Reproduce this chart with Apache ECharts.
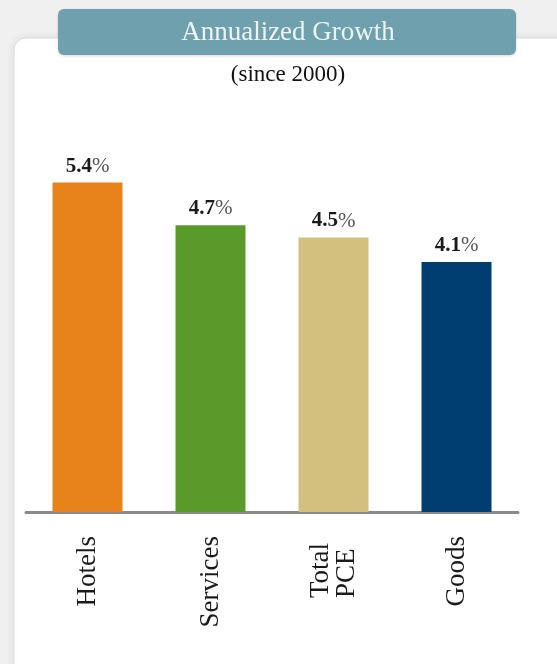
<!DOCTYPE html>
<html>
<head>
<meta charset="utf-8">
<script src="https://cdn.jsdelivr.net/npm/echarts@6/dist/echarts.min.js"></script>
<style>
html,body{margin:0;padding:0;background:#f0f0f0;}
#c{width:557px;height:664px;}
</style>
</head>
<body>
<div id="c"></div>
<script>
const categories = ['Hotels', 'Services', 'Total\nPCE', 'Goods'];
const values = [5.4, 4.7, 4.5, 4.1];
const colors = ['#e8821a', '#5a9a2a', '#d4c07e', '#003d70'];
const titleText = 'Annualized Growth';
const subtitleText = '(since 2000)';

const chart = echarts.init(document.getElementById('c'));
const serif = '"Liberation Serif", "Times New Roman", serif';

chart.setOption({
  backgroundColor: '#f0f0f0',
  animation: false,
  graphic: [
    {
      type: 'rect', z: 0, silent: true,
      shape: { x: 14, y: 38, width: 570, height: 660, r: 12 },
      style: { fill: '#ffffff', stroke: '#dcdcdc', lineWidth: 1, shadowBlur: 10, shadowColor: 'rgba(0,0,0,0.08)' }
    },
    {
      type: 'rect', z: 1, silent: true,
      shape: { x: 58, y: 9, width: 458, height: 46, r: 6 },
      style: { fill: '#6fa0ad', shadowBlur: 3, shadowColor: 'rgba(0,0,0,0.15)', shadowOffsetY: 1 }
    },
    {
      type: 'text', z: 2, silent: true,
      x: 288, y: 33,
      style: { text: titleText, fill: '#eef4f5', font: '27px ' + serif, align: 'center', verticalAlign: 'middle' }
    },
    {
      type: 'text', z: 2, silent: true,
      x: 288, y: 75,
      style: { text: subtitleText, fill: '#111111', font: '23px ' + serif, align: 'center', verticalAlign: 'middle' }
    }
  ],
  grid: { left: 26, width: 492, top: 146, height: 366 },
  xAxis: {
    type: 'category',
    data: categories,
    axisLine: { lineStyle: { color: '#8a8a8a', width: 3 } },
    axisTick: { show: false },
    axisLabel: {
      rotate: 90,
      margin: 24,
      color: '#1a1a1a',
      fontFamily: serif,
      fontSize: 27,
      lineHeight: 27,
      formatter: function (v) {
        if (v.indexOf('\n') >= 0) {
          return v.split('\n').map(s => '{l|' + s + '}').join('\n');
        }
        return v;
      },
      rich: {
        l: { width: 62, align: 'left', fontFamily: serif, fontSize: 27, color: '#1a1a1a', lineHeight: 26 }
      }
    }
  },
  yAxis: {
    type: 'value', min: 0, max: 6, show: false,
    splitLine: { show: false }
  },
  series: [{
    type: 'bar',
    barWidth: 70,
    data: values.map((v, i) => ({ value: v, itemStyle: { color: colors[i] } })),
    label: {
      show: true,
      position: 'top',
      distance: 6,
      formatter: p => '{v|' + p.value.toFixed(1) + '}{p|%}',
      rich: {
        v: { fontFamily: serif, fontWeight: 'bold', fontSize: 21, color: '#1a1a1a' },
        p: { fontFamily: serif, fontWeight: 'normal', fontSize: 21, color: '#555555' }
      }
    }
  }]
});
</script>
</body>
</html>
